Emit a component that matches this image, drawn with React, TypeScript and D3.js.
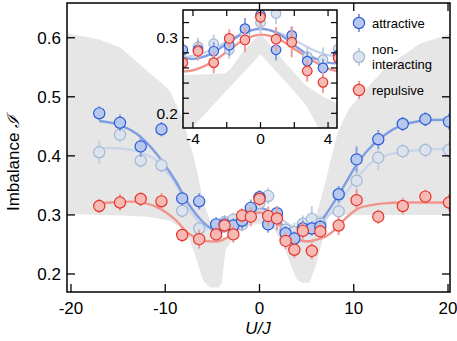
import React from "react";
import * as d3 from "d3";

// interaction strengths U/J of the measured points
const uVals = [-17, -14.8, -12.6, -10.4, -8.2, -6.4, -4.6, -3.7, -2.77, -1.85, -0.92, 0, 0.92, 1.85, 2.77, 3.7, 4.6, 5.55, 6.45, 8.4, 10.3, 12.6, 15.2, 17.6, 20.1];

const attractive = [0.472, 0.456, 0.416, 0.445, 0.328, 0.323, 0.284, 0.284, 0.282, 0.29, 0.312, 0.33, 0.284, 0.303, 0.269, 0.26, 0.277, 0.277, 0.28, 0.335, 0.394, 0.428, 0.454, 0.462, 0.458];
const nonInteracting = [0.406, 0.436, 0.392, 0.384, 0.307, 0.277, 0.283, 0.288, 0.292, 0.284, 0.305, 0.32, 0.332, 0.298, 0.275, 0.271, 0.285, 0.293, 0.285, 0.306, 0.358, 0.397, 0.408, 0.41, 0.41];
const repulsive = [0.315, 0.321, 0.327, 0.323, 0.266, 0.259, 0.267, 0.282, 0.267, 0.299, 0.297, 0.327, 0.298, 0.294, 0.256, 0.241, 0.273, 0.239, 0.272, 0.282, 0.325, 0.297, 0.315, 0.331, 0.321];

const errA = [0.012, 0.014, 0.018, 0.012, 0.012, 0.014, 0.012, 0.012, 0.012, 0.014, 0.014, 0.012, 0.014, 0.012, 0.012, 0.012, 0.014, 0.012, 0.012, 0.014, 0.022, 0.016, 0.012, 0.012, 0.014];
const errN = [0.02, 0.014, 0.012, 0.012, 0.012, 0.012, 0.012, 0.012, 0.012, 0.012, 0.012, 0.014, 0.014, 0.012, 0.014, 0.016, 0.014, 0.022, 0.014, 0.014, 0.024, 0.022, 0.012, 0.012, 0.014];
const errR = [0.012, 0.014, 0.012, 0.014, 0.012, 0.016, 0.012, 0.012, 0.014, 0.012, 0.016, 0.012, 0.016, 0.02, 0.014, 0.014, 0.014, 0.014, 0.014, 0.016, 0.018, 0.012, 0.014, 0.012, 0.014];

// fitted curves
const fitU = [-17, -15, -13, -11, -9, -7.5, -6, -5, -4, -3, -2, -1, 0, 1, 2, 3, 4, 5, 6, 7, 8, 9, 10.5, 12, 13.5, 15, 17, 20.5];
const fitA = [0.459, 0.453, 0.437, 0.405, 0.36, 0.318, 0.288, 0.276, 0.272, 0.278, 0.292, 0.306, 0.312, 0.306, 0.29, 0.275, 0.267, 0.268, 0.28, 0.3, 0.324, 0.35, 0.39, 0.418, 0.438, 0.451, 0.459, 0.461];
const fitN = [0.413, 0.413, 0.408, 0.393, 0.355, 0.31, 0.282, 0.275, 0.276, 0.283, 0.295, 0.306, 0.311, 0.307, 0.297, 0.285, 0.277, 0.276, 0.282, 0.294, 0.31, 0.333, 0.366, 0.39, 0.401, 0.406, 0.41, 0.412];
const fitR = [0.32, 0.322, 0.322, 0.314, 0.293, 0.268, 0.257, 0.255, 0.257, 0.266, 0.281, 0.297, 0.304, 0.299, 0.285, 0.271, 0.259, 0.255, 0.258, 0.263, 0.275, 0.292, 0.311, 0.317, 0.32, 0.321, 0.321, 0.321];

// grey theory band, main panel
const bandU = [-20.5, -17, -14.8, -12, -10.5, -9.5, -8.5, -8, -7.4, -7, -6.5, -6.2, -6, -5.3, -4.3, -4.0, -3.6, -2.5, -1, 0, 1, 1.6, 2.65, 3.3, 4.0, 4.5, 5.3, 6, 6.4, 6.8, 7.1, 7.5, 8.3, 9.5, 10.6, 13.4, 17, 20.5];
const bandLow = [0.302, 0.3, 0.299, 0.297, 0.293, 0.29, 0.28, 0.272, 0.256, 0.24, 0.215, 0.2, 0.19, 0.177, 0.177, 0.185, 0.24, 0.268, 0.282, 0.285, 0.28, 0.275, 0.245, 0.215, 0.19, 0.185, 0.185, 0.215, 0.24, 0.265, 0.29, 0.3, 0.3, 0.3, 0.3, 0.3, 0.3, 0.3];
const bandHigh = [0.608, 0.597, 0.584, 0.545, 0.525, 0.51, 0.475, 0.455, 0.42, 0.4, 0.365, 0.34, 0.325, 0.292, 0.265, 0.263, 0.262, 0.275, 0.3, 0.318, 0.305, 0.295, 0.278, 0.27, 0.265, 0.266, 0.276, 0.3, 0.32, 0.345, 0.362, 0.39, 0.44, 0.48, 0.5, 0.55, 0.59, 0.608];

// grey band as seen in the inset
const insetBandU = [-4.7, -3.8, -2.1, -1.8, -1, 0, 1.55, 2.54, 2.74, 3.7, 4.6];
const insetBandLow = [0.17, 0.187, 0.228, 0.235, 0.254, 0.278, 0.24, 0.215, 0.209, 0.17, 0.17];
const insetBandHigh = [0.251, 0.251, 0.253, 0.258, 0.283, 0.306, 0.265, 0.24, 0.236, 0.222, 0.213];

const xTicks = [-20, -10, 0, 10, 20];
const yTicks = [0.2, 0.3, 0.4, 0.5, 0.6];
const insetXTicks = [-4, -2, 0, 2, 4];
const insetYTicks = [0.2, 0.22, 0.24, 0.26, 0.28, 0.3, 0.32];
const insetXLabels = [-4, 0, 4];
const insetYLabels = [0.2, 0.3];

const series = [
  { name: "non-interacting", vals: nonInteracting, err: errN, fit: fitN, fill: "#dbe3ee", stroke: "#a3b7d2", bar: "#c3d1e4", line: "#c9d6ea" },
  { name: "attractive", vals: attractive, err: errA, fit: fitA, fill: "#b7c8ee", stroke: "#2c5bd6", bar: "#86a2e2", line: "#7f9de2" },
  { name: "repulsive", vals: repulsive, err: errR, fit: fitR, fill: "#f6b9b4", stroke: "#e5332c", bar: "#f19b94", line: "#f2948c" },
];

const FONT = "'Liberation Sans', Arial, Helvetica, sans-serif";
const GREY = "#e6e6e6";

const Panel = ({ x, y, bU, bLo, bHi, r, clipId, tickLen }) => {
  const [x0, x1] = x.range();
  const [y0, y1] = y.range();
  const area = d3
    .area()
    .x((d) => x(d[0]))
    .y0((d) => y(d[1]))
    .y1((d) => y(d[2]));
  const band = bU.map((u, i) => [u, bLo[i], bHi[i]]);
  const line = d3
    .line()
    .x((d) => x(d[0]))
    .y((d) => y(d[1]))
    .curve(d3.curveCatmullRom);
  return (
    <g>
      <defs>
        <clipPath id={clipId}>
          <rect x={x0} y={y1} width={x1 - x0} height={y0 - y1} />
        </clipPath>
      </defs>
      <rect x={x0} y={y1} width={x1 - x0} height={y0 - y1} fill="#fff" />
      <g clipPath={`url(#${clipId})`}>
        <path d={area(band)} fill={GREY} />
        {series.map((s) => (
          <path key={s.name} d={line(fitU.map((u, i) => [u, s.fit[i]]))} fill="none" stroke={s.line} strokeWidth={2.4} />
        ))}
        {series.map((s) => (
          <g key={s.name}>
            {uVals.map((u, i) => (
              <g key={i}>
                <line x1={x(u)} x2={x(u)} y1={y(s.vals[i] - s.err[i])} y2={y(s.vals[i] + s.err[i])} stroke={s.bar} strokeWidth={2} />
                <circle cx={x(u)} cy={y(s.vals[i])} r={r} fill={s.fill} stroke={s.stroke} strokeWidth={1.2} />
              </g>
            ))}
          </g>
        ))}
      </g>
    </g>
  );
};

export default function App() {
  const x = d3.scaleLinear().domain([-20.42, 20.21]).range([67, 450]);
  const y = d3.scaleLinear().domain([0.1695, 0.6588]).range([292, 3]);
  const xi = d3.scaleLinear().domain([-4.59, 4.53]).range([183, 337]);
  const yi = d3.scaleLinear().domain([0.1806, 0.3366]).range([128, 10]);

  const legendY = [23, 57, 90];
  const legendItems = [series[1], series[0], series[2]];

  return (
    <svg width={457} height={341} style={{ position: "absolute", left: 0, top: 0 }} fontFamily={FONT}>
      <rect width={457} height={341} fill="#fff" />
      <Panel x={x} y={y} bU={bandU} bLo={bandLow} bHi={bandHigh} r={5.6} clipId="clipMain" />

      {/* main frame and ticks */}
      <rect x={67} y={3} width={383} height={289} fill="none" stroke="#000" strokeWidth={1.5} />
      {xTicks.map((t) => (
        <g key={t}>
          <line x1={x(t)} x2={x(t)} y1={292} y2={284} stroke="#000" strokeWidth={1.3} />
          {t >= 0 && <line x1={x(t)} x2={x(t)} y1={3} y2={11} stroke="#000" strokeWidth={1.3} />}
          <text x={x(t)} y={313.5} fontSize={17} textAnchor="middle">
            {t}
          </text>
        </g>
      ))}
      {yTicks.map((t) => (
        <g key={t}>
          <line x1={67} x2={75} y1={y(t)} y2={y(t)} stroke="#000" strokeWidth={1.3} />
          <line x1={450} x2={442} y1={y(t)} y2={y(t)} stroke="#000" strokeWidth={1.3} />
          <text x={61} y={y(t) + 6} fontSize={17} textAnchor="end">
            {t.toFixed(1)}
          </text>
        </g>
      ))}
      <text x={258} y={334} fontSize={17} fontStyle="italic" textAnchor="middle">
        U/J
      </text>
      <text transform="translate(19,163) rotate(-90)" fontSize={17} textAnchor="middle">
        Imbalance <tspan fontStyle="italic">ℐ</tspan>
      </text>

      {/* inset */}
      <Panel x={xi} y={yi} bU={insetBandU} bLo={insetBandLow} bHi={insetBandHigh} r={4.8} clipId="clipInset" />
      <rect x={183} y={10} width={154} height={118} fill="none" stroke="#000" strokeWidth={1.5} />
      {insetXTicks.map((t) => (
        <g key={t}>
          <line x1={xi(t)} x2={xi(t)} y1={128} y2={122} stroke="#000" strokeWidth={1.2} />
          <line x1={xi(t)} x2={xi(t)} y1={10} y2={16} stroke="#000" strokeWidth={1.2} />
        </g>
      ))}
      {insetYTicks.map((t) => (
        <g key={t}>
          <line x1={183} x2={189} y1={yi(t)} y2={yi(t)} stroke="#000" strokeWidth={1.2} />
          <line x1={337} x2={331} y1={yi(t)} y2={yi(t)} stroke="#000" strokeWidth={1.2} />
        </g>
      ))}
      {insetXLabels.map((t) => (
        <text key={t} x={xi(t)} y={144} fontSize={15.5} textAnchor="middle">
          {t}
        </text>
      ))}
      {insetYLabels.map((t) => (
        <text key={t} x={178} y={yi(t) + 5.5} fontSize={15.5} textAnchor="end">
          {t.toFixed(1)}
        </text>
      ))}

      {/* legend */}
      {legendItems.map((s, i) => (
        <g key={s.name}>
          <line x1={359} x2={359} y1={legendY[i] - 9} y2={legendY[i] + 9} stroke={s.bar} strokeWidth={2} />
          <circle cx={359} cy={legendY[i]} r={5.6} fill={s.fill} stroke={s.stroke} strokeWidth={1.2} />
        </g>
      ))}
      <text x={372} y={28} fontSize={13}>attractive</text>
      <text x={372} y={54} fontSize={13}>non-</text>
      <text x={372} y={68.5} fontSize={13}>interacting</text>
      <text x={372} y={94.5} fontSize={13}>repulsive</text>
    </svg>
  );
}
